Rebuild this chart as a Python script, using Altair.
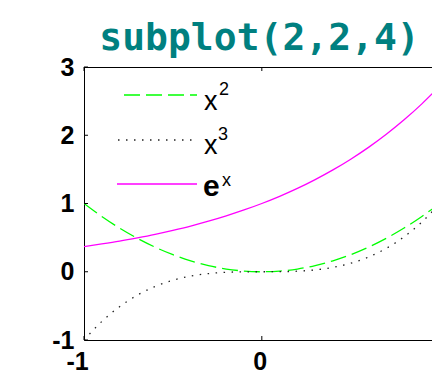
import altair as alt
import pandas as pd

# Sample points of the three curves over -1 <= x <= 1
x_vals = [-1.0, -0.9, -0.8, -0.7, -0.6, -0.5, -0.4, -0.3, -0.2, -0.1, 0.0,
          0.1, 0.2, 0.3, 0.4, 0.5, 0.6, 0.7, 0.8, 0.9, 1.0]
sq_vals = [1.00, 0.81, 0.64, 0.49, 0.36, 0.25, 0.16, 0.09, 0.04, 0.01, 0.00,
           0.01, 0.04, 0.09, 0.16, 0.25, 0.36, 0.49, 0.64, 0.81, 1.00]
cube_vals = [-1.000, -0.729, -0.512, -0.343, -0.216, -0.125, -0.064, -0.027, -0.008, -0.001, 0.000,
             0.001, 0.008, 0.027, 0.064, 0.125, 0.216, 0.343, 0.512, 0.729, 1.000]
exp_vals = [0.368, 0.407, 0.449, 0.497, 0.549, 0.607, 0.670, 0.741, 0.819, 0.905, 1.000,
            1.105, 1.221, 1.350, 1.492, 1.649, 1.822, 2.014, 2.226, 2.460, 2.718]

x_ticks = [-1, 0, 1]
y_ticks = [-1, 0, 1, 2, 3]
legend_base = ["x", "x", "e"]
legend_power = ["2", "3", "x"]
title_text = "subplot(2,2,4)"

W, H = 348, 273
X_MAX = 0.957  # visible right end of the x range
LABEL_FONT = "Liberation Sans"

long_df = pd.DataFrame({
    "x": x_vals * 3,
    "series": ["sq"] * len(x_vals) + ["cube"] * len(x_vals) + ["exp"] * len(x_vals),
    "y": sq_vals + cube_vals + exp_vals,
})

x_scale = alt.Scale(domain=[-1, X_MAX], nice=False, zero=False)
y_scale = alt.Scale(domain=[-1, 3], nice=False, zero=False)
shown_x_ticks = [t for t in x_ticks if t <= X_MAX]

# plain hyphen for negative tick labels
plain_label = "'' + datum.value"

x_axis = alt.Axis(
    values=shown_x_ticks, title=None, grid=False, ticks=False, tickSize=0,
    domainColor="black", domainWidth=1, labelFont=LABEL_FONT, labelFontSize=25,
    labelFontWeight="bold", labelColor="black", labelPadding=9, labelFlush=False,
    labelOverlap=False, labelExpr=plain_label,
    labelOffset={"condition": {"test": "datum.value < 0", "value": -7}, "value": -2},
)
y_axis = alt.Axis(
    values=y_ticks, title=None, grid=False, ticks=False, tickSize=0,
    domainColor="black", domainWidth=1, labelFont=LABEL_FONT, labelFontSize=25,
    labelFontWeight="bold", labelColor="black", labelPadding=10, labelFlush=False,
    labelOverlap=False, labelExpr=plain_label,
)


def curve(name, color, dash=None):
    kw = dict(clip=True, color=color, strokeWidth=1.3, interpolate="monotone")
    if dash:
        kw["strokeDash"] = dash
    return (
        alt.Chart(long_df)
        .transform_filter(alt.datum.series == name)
        .mark_line(**kw)
        .encode(
            x=alt.X("x:Q", scale=x_scale, axis=x_axis),
            y=alt.Y("y:Q", scale=y_scale, axis=y_axis),
        )
    )


green_line = curve("sq", "#00ff00", [16, 6])
black_line = curve("cube", "#222222", [1.5, 6.5])
magenta_line = curve("exp", "#ff00ff")

# Inward-pointing tick marks and the top frame line
xt_df = pd.DataFrame({"x": shown_x_ticks})
yt_df = pd.DataFrame({"y": y_ticks})
bottom_ticks = alt.Chart(xt_df).mark_rule(color="black", strokeWidth=1).encode(
    x=alt.X("x:Q", scale=x_scale, axis=x_axis), y=alt.value(H), y2=alt.value(H - 4))
top_ticks = alt.Chart(xt_df).mark_rule(color="black", strokeWidth=1).encode(
    x=alt.X("x:Q", scale=x_scale, axis=x_axis), y=alt.value(0), y2=alt.value(4))
left_ticks = alt.Chart(yt_df).mark_rule(color="black", strokeWidth=1).encode(
    y=alt.Y("y:Q", scale=y_scale, axis=y_axis), x=alt.value(0), x2=alt.value(4))
top_frame = alt.Chart(xt_df).mark_rule(color="black", strokeWidth=1).encode(
    x=alt.value(0), x2=alt.value(W), y=alt.value(0.5))

one = pd.DataFrame({"k": [0]})

# Title drawn as a text mark above the plot area
title_mark = alt.Chart(one).mark_text(
    text=title_text, align="center", baseline="alphabetic", font="DejaVu Sans Mono",
    fontSize=38, fontWeight="bold", color="#008080",
).encode(x=alt.value(W / 2 + 1.5), y=alt.value(-17))


# Legend: sample line, base text and superscript for each entry
def legend_entry(i, line_y, x0, x1, color, dash, base_x, base_y, base_size, base_weight,
                 sup_x, sup_y):
    kw = dict(color=color, strokeWidth=1.3)
    if dash:
        kw["strokeDash"] = dash
    sample = alt.Chart(one).mark_rule(**kw).encode(
        x=alt.value(x0), x2=alt.value(x1), y=alt.value(line_y))
    base = alt.Chart(one).mark_text(
        text=legend_base[i], align="left", baseline="alphabetic", font=LABEL_FONT,
        fontSize=base_size, fontWeight=base_weight, color="black",
    ).encode(x=alt.value(base_x), y=alt.value(base_y))
    sup = alt.Chart(one).mark_text(
        text=legend_power[i], align="left", baseline="alphabetic", font=LABEL_FONT,
        fontSize=18, color="black",
    ).encode(x=alt.value(sup_x), y=alt.value(sup_y))
    return [sample, base, sup]


legend_layers = (
    legend_entry(0, 28, 40, 113, "#00ff00", [16, 6], 120, 43, 27, "normal", 135, 28)
    + legend_entry(1, 73, 34, 108, "#222222", [1.5, 6.5], 120, 87, 27, "normal", 134, 73)
    + legend_entry(2, 117, 33, 113, "#ff00ff", None, 119, 129, 30, "bold", 138, 119)
)

chart = alt.layer(
    green_line, black_line, magenta_line,
    bottom_ticks, top_ticks, left_ticks, top_frame,
    title_mark,
    *legend_layers,
).properties(
    width=W,
    height=H,
    autosize=alt.AutoSizeParams(type="none"),
    padding={"left": 84, "top": 67, "right": 0, "bottom": 31},
).configure_view(stroke="transparent").configure(background="white")

chart.save("out.html", embed_options={"renderer": "svg", "actions": False})
